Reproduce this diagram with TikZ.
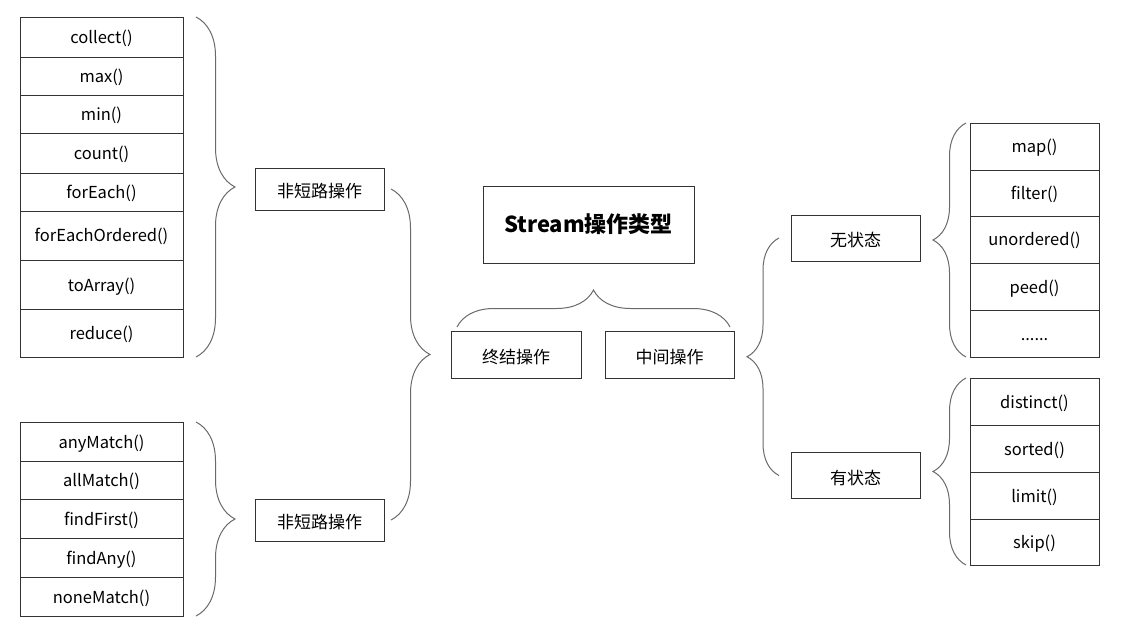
\documentclass[tikz,border=0pt]{standalone}
\usepackage{fontspec}
\setmainfont{Noto Sans CJK SC}
\usepackage{xcolor}
\usepackage{tikz}
\usetikzlibrary{positioning, decorations.pathreplacing}
\definecolor{stLine}{HTML}{333333}
\definecolor{stBrace}{HTML}{6A6A6A}
\tikzset{
  st-cell/.style={
    rectangle, draw=stLine, line width=0.9pt, outer sep=0pt, inner sep=0pt,
    minimum width=163pt, align=center, font=\fontsize{16.5}{19}\selectfont,
    text height=13pt, text depth=0pt
  },
  st-op/.style={
    rectangle, draw=stLine, line width=0.9pt, outer sep=0pt, inner sep=0pt,
    minimum width=129pt, minimum height=46pt, align=center,
    font=\fontsize{17}{20}\selectfont, text height=17pt, text depth=0pt
  },
  st-title/.style={
    st-op, minimum width=211pt, minimum height=77pt,
    font=\fontsize{22}{26}\selectfont\bfseries, text height=17pt, text depth=0pt
  },
  st-brace/.style={
    decorate, decoration={brace, amplitude=#1}, draw=stBrace, line width=1pt
  },
  st-brace/.default=38pt,
}
\begin{document}
\begin{tikzpicture}[x=1pt, y=-1pt]
  \useasboundingbox (0,0) rectangle (1129,636);

  % terminal operations, non short-circuit
  \node[st-cell, minimum height=40pt, anchor=north west] (collect) at (20,17) {collect()};
  \node[st-cell, minimum height=38pt, below=0pt of collect] (max) {max()};
  \node[st-cell, minimum height=38pt, below=0pt of max] (min) {min()};
  \node[st-cell, minimum height=40pt, below=0pt of min] (count) {count()};
  \node[st-cell, minimum height=38pt, below=0pt of count] (forEach) {forEach()};
  \node[st-cell, minimum height=49pt, below=0pt of forEach] (forEachOrd) {forEachOrdered()};
  \node[st-cell, minimum height=49pt, below=0pt of forEachOrd] (toArray) {toArray()};
  \node[st-cell, minimum height=48pt, below=0pt of toArray] (reduce) {reduce()};

  % terminal operations, short-circuit
  \node[st-cell, minimum height=39pt, anchor=north west] (anyMatch) at (20,422) {anyMatch()};
  \node[st-cell, minimum height=38pt, below=0pt of anyMatch] (allMatch) {allMatch()};
  \node[st-cell, minimum height=39pt, below=0pt of allMatch] (findFirst) {findFirst()};
  \node[st-cell, minimum height=39pt, below=0pt of findFirst] (findAny) {findAny()};
  \node[st-cell, minimum height=39pt, below=0pt of findAny] (noneMatch) {noneMatch()};

  \node[st-op, minimum height=42pt] (ncTop) at (319.5,189) {非短路操作};
  \node[st-op, minimum height=42pt] (ncBot) at (319.5,520) {非短路操作};

  % centre
  \node[st-title] (title) at (588.5,224.5) {Stream操作类型};
  \node[st-op, minimum height=47pt, minimum width=130pt] (term) at (516,354.5) {终结操作};
  \node[st-op, minimum height=47pt, right=24pt of term] (inter) {中间操作};

  \node[st-op] (stateless) at (855.5,238) {无状态};
  \node[st-op] (stateful) at (855.5,475.5) {有状态};

  % intermediate operations
  \node[st-cell, minimum width=129pt, minimum height=47pt, anchor=north west] (map) at (970,123) {map()};
  \node[st-cell, minimum width=129pt, minimum height=46pt, below=0pt of map] (filter) {filter()};
  \node[st-cell, minimum width=129pt, minimum height=47pt, below=0pt of filter] (unordered) {unordered()};
  \node[st-cell, minimum width=129pt, minimum height=47pt, below=0pt of unordered] (peed) {peed()};
  \node[st-cell, minimum width=129pt, minimum height=47pt, below=0pt of peed] (dots) {......};

  \node[st-cell, minimum width=129pt, minimum height=47pt, anchor=north west] (distinct) at (970,378) {distinct()};
  \node[st-cell, minimum width=129pt, minimum height=47pt, below=0pt of distinct] (sorted) {sorted()};
  \node[st-cell, minimum width=129pt, minimum height=47pt, below=0pt of sorted] (limit) {limit()};
  \node[st-cell, minimum width=129pt, minimum height=46pt, below=0pt of limit] (skip) {skip()};

  % braces
  \draw[st-brace=39pt] ([xshift=13pt]collect.north east) -- ([xshift=13pt]reduce.south east);
  \draw[st-brace=39pt] ([xshift=13pt]anyMatch.north east) -- ([xshift=13pt]noneMatch.south east);
  \draw[st-brace=39pt] ([xshift=7pt]ncTop.east) -- ([xshift=7pt]ncBot.east);
  \draw[st-brace=37pt] ([xshift=6pt,yshift=4pt]term.north west) -- ([xshift=-4pt,yshift=4pt]inter.north east);
  \draw[st-brace=32pt] ([xshift=-12pt]stateful.west) -- ([xshift=-12pt]stateless.west);
  \draw[st-brace=33pt] ([xshift=-4pt]dots.south west) -- ([xshift=-4pt]map.north west);
  \draw[st-brace=33pt] ([xshift=-4pt]skip.south west) -- ([xshift=-4pt]distinct.north west);
\end{tikzpicture}
\end{document}
